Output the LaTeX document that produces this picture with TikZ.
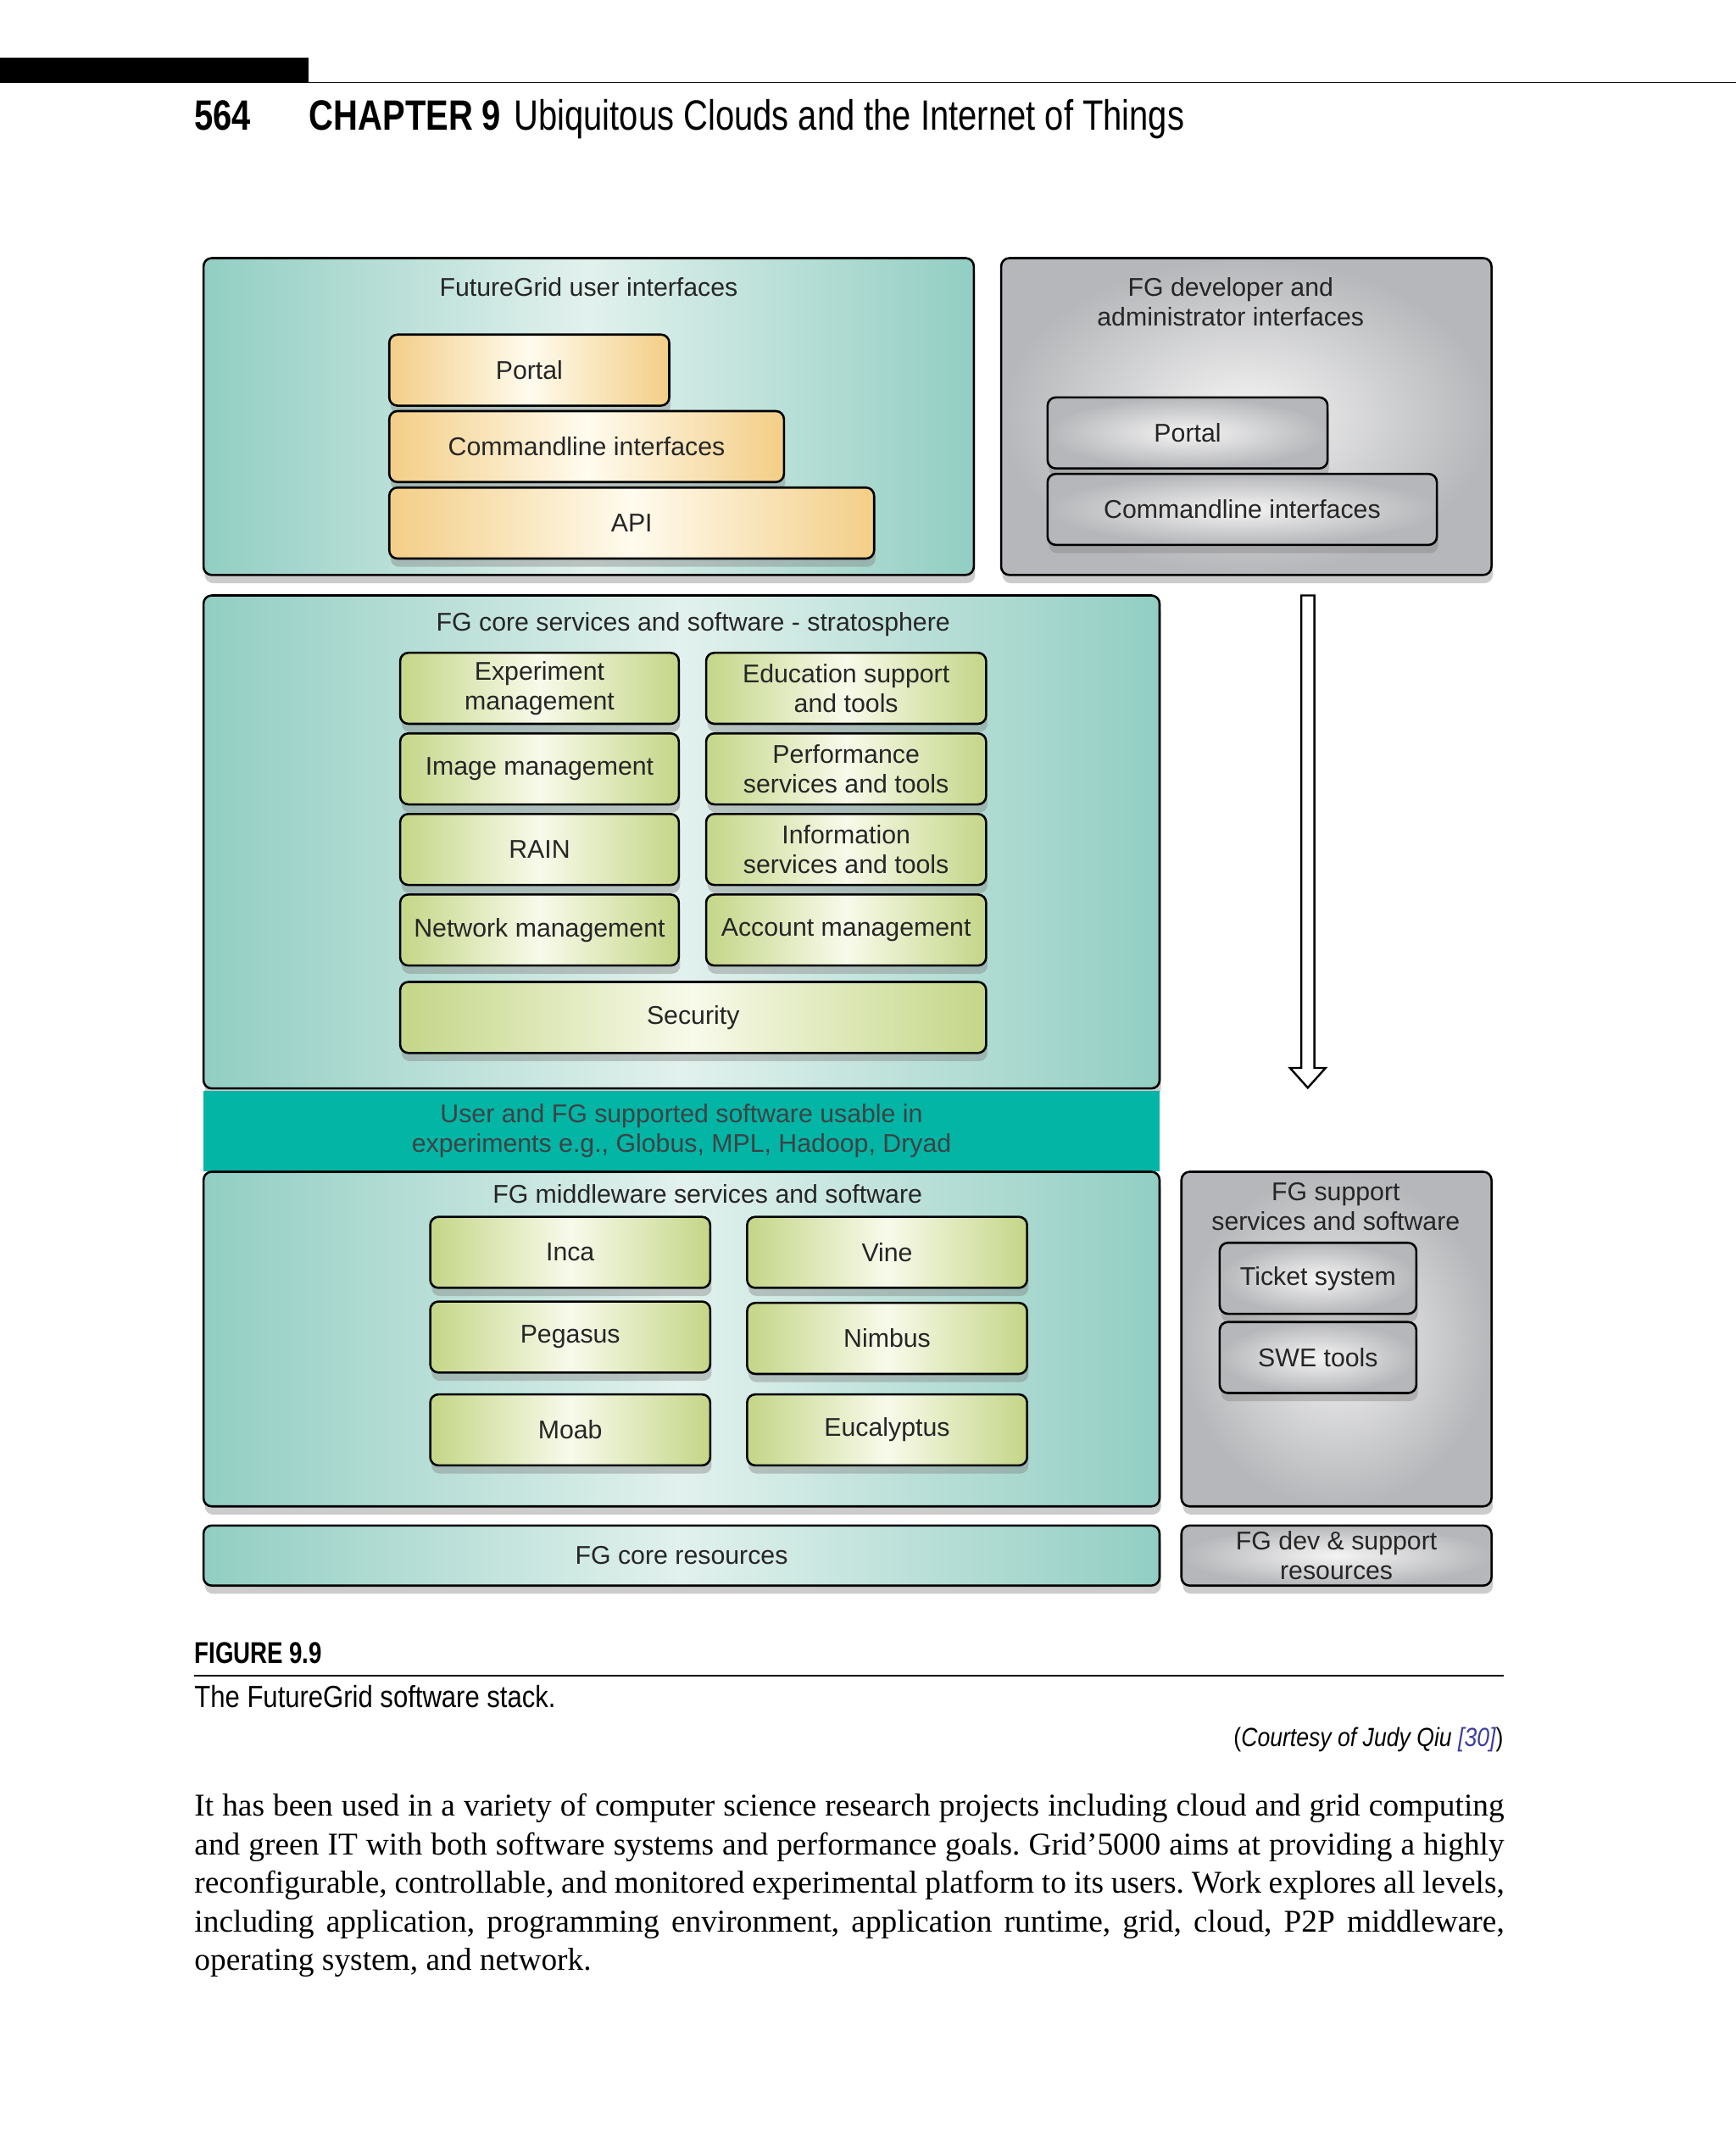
\documentclass[tikz,border=0pt]{standalone}
\usepackage{fontspec}
\setmainfont{Liberation Serif}
\newfontfamily\diafont{Liberation Sans}
\newfontfamily\headfont[FakeStretch=0.8]{Liberation Sans}
\newfontfamily\capfont[FakeStretch=0.86]{Liberation Sans}
\newfontfamily\fignumfont[FakeStretch=0.78]{Liberation Sans}
\usetikzlibrary{shadows}
\definecolor{tealedge}{RGB}{146,206,195}
\definecolor{tealmid}{RGB}{226,241,237}
\definecolor{tealband}{RGB}{2,181,165}
\definecolor{bandtext}{RGB}{62,66,68}
\definecolor{yellowedge}{RGB}{243,206,135}
\definecolor{yellowmid}{RGB}{255,251,238}
\definecolor{greenedge}{RGB}{196,214,136}
\definecolor{greenmid}{RGB}{248,250,234}
\definecolor{grayedge}{RGB}{182,183,186}
\definecolor{graymid}{RGB}{244,244,244}
\definecolor{citeblue}{RGB}{60,60,160}

\begin{document}
\begin{tikzpicture}[x=0.5pt,y=-0.5pt,
  wh/.style 2 args={minimum width=#1*0.5pt, minimum height=#2*0.5pt}]
	\tikzstyle{layer} = [draw, rounded corners=3pt, line width=0.8pt, inner sep=0, align=center,
	text=black!85, font=\diafont\fontsize{9.4}{11}\selectfont,
	drop shadow={opacity=0.4, shadow xshift=0.5pt, shadow yshift=-3pt}]
	\tikzstyle{tealpanel} = [layer, left color=tealedge, right color=tealedge, middle color=tealmid]
	\tikzstyle{silverpanel} = [layer, inner color=graymid, outer color=grayedge]
	\tikzstyle{ifbox} = [layer, left color=yellowedge, right color=yellowedge, middle color=yellowmid]
	\tikzstyle{svcbox} = [layer, left color=greenedge, right color=greenedge, middle color=greenmid]
	\tikzstyle{toolbox} = [layer, inner color=graymid, outer color=grayedge]
	\tikzstyle{swband} = [fill=tealband, inner sep=0, align=center, text=bandtext, font=\diafont\fontsize{9.4}{11}\selectfont]
	\tikzstyle{paneltitle} = [inner sep=0, align=center, text=black!85, font=\diafont\fontsize{9.4}{11}\selectfont]
	\tikzstyle{runhead} = [inner sep=0, font=\headfont\fontsize{15.5}{18}\selectfont]
	\tikzstyle{captext} = [inner sep=0, font=\capfont\fontsize{11.2}{14}\selectfont]
	\tikzstyle{bodytext} = [inner sep=0, text width=479.5pt, align=justify, font=\fontsize{11.6}{14.15}\selectfont]
	\tikzstyle{hollow} = [draw, line width=0.75pt, fill=white, line join=miter]
\fill [white] (0,0) rectangle (1271,1567.7);
\useasboundingbox (0,0) rectangle (1271,1567.7);
% running head
\fill [black] (0,42) rectangle (226,61);
\draw [line width=0.6pt] (226,60.5) -- (1271,60.5);
\node [runhead, anchor=base west] (pagenum) at (142,95) {\bfseries 564};
\node [runhead, anchor=base west] (chapter) at (226,95) {\bfseries CHAPTER 9};
\node [runhead, anchor=base west] (chaptitle) at (376,95) {Ubiquitous Clouds and the Internet of Things};
% user interfaces
\node [tealpanel, wh={564}{232}] (ui) at (431,305) {};
\node [paneltitle] (uititle) at (431,210) {FutureGrid user interfaces};
\node [ifbox, wh={205}{52}] (uiportal) at (387.5,271) {Portal};
\node [ifbox, wh={289}{52}] (uicli) at (429.5,327) {Commandline interfaces};
\node [ifbox, wh={355}{52}] (uiapi) at (462.5,383) {API};
% developer and administrator interfaces
\node [silverpanel, wh={359}{232}] (dev) at (912.5,305) {};
\node [paneltitle] (devtitle) at (901,221) {FG developer and\\administrator interfaces};
\node [toolbox, wh={205}{52}] (devportal) at (869.5,317) {Portal};
\node [toolbox, wh={285}{52}] (devcli) at (909.5,373) {Commandline interfaces};
% core services
\node [tealpanel, wh={700}{361}] (core) at (499,616.5) {};
\node [paneltitle] (coretitle) at (507.5,457) {FG core services and software - stratosphere};
\node [svcbox, wh={204}{52}] (experiment) at (395,504) {Experiment\\management};
\node [svcbox, wh={205}{52}] (education) at (619.5,504) {Education support\\and tools};
\node [svcbox, wh={204}{52}] (image) at (395,563) {Image management};
\node [svcbox, wh={205}{52}] (performance) at (619.5,563) {Performance\\services and tools};
\node [svcbox, wh={204}{52}] (rain) at (395,622) {RAIN};
\node [svcbox, wh={205}{52}] (information) at (619.5,622) {Information\\services and tools};
\node [svcbox, wh={204}{52}] (network) at (395,681) {Network management};
\node [svcbox, wh={205}{52}] (account) at (619.5,681) {Account management};
\node [svcbox, wh={429}{52}] (security) at (507.5,745) {Security};
\node [swband, wh={700}{59}] (usersw) at (499,828) {User and FG supported software usable in\\experiments e.g., Globus, MPL, Hadoop, Dryad};
% middleware
\node [tealpanel, wh={700}{245}] (mid) at (499,980.5) {};
\node [paneltitle] (midtitle) at (518,874) {FG middleware services and software};
\node [svcbox, wh={205}{52}] (inca) at (417.5,917) {Inca};
\node [svcbox, wh={205}{52}] (vine) at (649.5,917) {Vine};
\node [svcbox, wh={205}{52}] (pegasus) at (417.5,979) {Pegasus};
\node [svcbox, wh={205}{52}] (nimbus) at (649.5,980) {Nimbus};
\node [svcbox, wh={205}{52}] (moab) at (417.5,1047) {Moab};
\node [svcbox, wh={205}{52}] (eucalyptus) at (649.5,1047) {Eucalyptus};
% support services
\node [silverpanel, wh={227}{245}] (support) at (978.5,980.5) {};
\node [paneltitle] (supporttitle) at (978,883.5) {FG support\\services and software};
\node [toolbox, wh={144}{52}] (ticket) at (965,936) {Ticket system};
\node [toolbox, wh={144}{52}] (swe) at (965,994) {SWE tools};
% resources
\node [tealpanel, wh={700}{44}] (coreres) at (499,1139) {FG core resources};
\node [silverpanel, wh={227}{44}] (devres) at (978.5,1139) {FG dev \& support\\resources};
% flow arrow
\coordinate (arrtop) at (957.5,436);
\coordinate (arrtip) at (957.5,796.5);
\draw [hollow] ([xshift=-2.4pt]arrtop) -- ([xshift=-2.4pt,yshift=7.25pt]arrtip) -- ([xshift=-6.5pt,yshift=7.25pt]arrtip) -- (arrtip) -- ([xshift=6.5pt,yshift=7.25pt]arrtip) -- ([xshift=2.4pt,yshift=7.25pt]arrtip) -- ([xshift=2.4pt]arrtop) -- cycle;
% caption
\node [captext, anchor=base west, font=\fignumfont\fontsize{11}{13}\bfseries] (fignum) at (142,1218) {FIGURE 9.9};
\draw [line width=0.7pt] (142,1227) -- (1101,1227);
\node [captext, anchor=base west] (figcap) at (142,1250) {The FutureGrid software stack.};
\node [captext, anchor=base east, font=\capfont\fontsize{9.6}{12}\selectfont] (courtesy) at (1101,1279) {(\textit{Courtesy of Judy Qiu \textcolor{citeblue}{[30]}})};
% running text
\node [bodytext, anchor=north west] (para) at (142,1313) {\noindent\frenchspacing\hyphenpenalty=10000 It has been used in a variety of computer science research projects including cloud and grid computing\linebreak and green IT with both software systems and performance goals. Grid’5000 aims at providing a highly\linebreak reconfigurable, controllable, and monitored experimental platform to its users. Work explores all levels,\linebreak including application, programming environment, application runtime, grid, cloud, P2P middleware,\linebreak operating system, and network.};
\end{tikzpicture}
\end{document}
